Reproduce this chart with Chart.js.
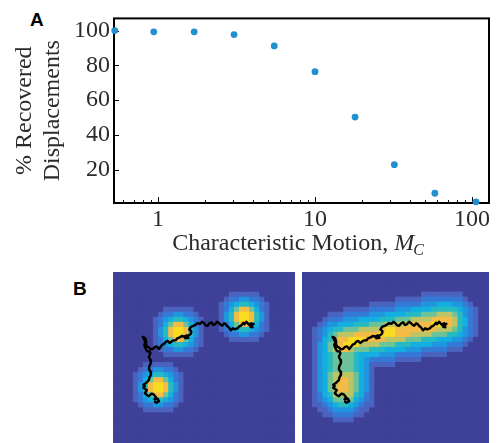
<!DOCTYPE html>
<html>
<head>
<meta charset="utf-8">
<script src="https://cdn.jsdelivr.net/npm/chart.js@4.4.1/dist/chart.umd.min.js"></script>
<style>
body { margin:0; background:#fff; width:499px; height:443px; overflow:hidden; position:relative; }
.panel { position:absolute; font-family:"Liberation Sans", Arial, sans-serif; font-weight:bold; font-size:19px; color:#000; }
#chartA { position:absolute; left:0; top:0; }
#imgL { position:absolute; left:113px; top:272px; }
#imgR { position:absolute; left:302px; top:272px; }
</style>
</head>
<body>
<div class="panel" style="left:30px;top:9px">A</div>
<div class="panel" style="left:73px;top:278px">B</div>
<canvas id="chartA" width="499" height="262"></canvas>
<canvas id="imgL" width="182" height="171"></canvas>
<canvas id="imgR" width="187" height="171"></canvas>

<script>
// panel A
var motion    = [0.53, 0.94, 1.7, 3.05, 5.5, 10, 18, 32, 58, 106];
var recovered = [100, 99.3, 99.3, 97.7, 91.2, 76.4, 50.3, 22.9, 6.5, 1.6];
var xTickLabels = [1, 10, 100];
var yTickLabels = [20, 40, 60, 80, 100];
var yTitle = ['% Recovered', 'Displacements'];
var xTitle = ['Characteristic Motion, ', 'M', 'C'];

// panel B : intensity level per cell (0-9), one string per image row
var heatLeft = [
"000000000000000000000000000000000000",
"000000000000000000000000000000000000",
"000000000000000000000000000000000000",
"000000000000000000000000000000000000",
"000000000000000000000001111110000000",
"000000000000000000000012233221000000",
"000000000000000000000123455432100000",
"000000000011111100000124688642100000",
"000000000122332210000135899853100000",
"000000001234554321000135899853100000",
"000000001246886421000124688642100000",
"000000001358998531000123455432100000",
"000000001358998531000012233221000000",
"000000001246886421000001111110000000",
"000000001234554321000000000000000000",
"000000000122332210000000000000000000",
"000000000011111100000000000000000000",
"000000000000000000000000000000000000",
"000000111111000000000000000000000000",
"000001223322100000000000000000000000",
"000012345543210000000000000000000000",
"000012468864210000000000000000000000",
"000013589985310000000000000000000000",
"000013589985310000000000000000000000",
"000012468864210000000000000000000000",
"000012345543210000000000000000000000",
"000001223322100000000000000000000000",
"000000111111000000000000000000000000",
"000000000000000000000000000000000000",
"000000000000000000000000000000000000",
"000000000000000000000000000000000000",
"000000000000000000000000000000000000",
"000000000000000000000000000000000000",
"000000000000000000000000000000000000"
];
var heatRight = [
"000000000000000000000000000000000000",
"000000000000000000000000000000000000",
"000000000000000000000000000000000000",
"000000000000000000000000000000000000",
"000000000000000000000001111111100000",
"000000000000000000111112222222210000",
"000000000000011111222223334443321000",
"000000001111122222333444455555432100",
"000001112222233344445556667776532100",
"000012223334444555666777788887542100",
"000123344455566677778888899887542100",
"001234556667777899888888887776532100",
"001235677788888999888777766655432100",
"001245788999888877776665554443321000",
"001346789997777666555444433322210000",
"001346788766655544443332222211100000",
"001345666654444333222221111100000000",
"001345666654322222111110000000000000",
"001345666654311111000000000000000000",
"001345666654310000000000000000000000",
"001346777764310000000000000000000000",
"001346788764310000000000000000000000",
"001346788764310000000000000000000000",
"001346788764310000000000000000000000",
"001245777754210000000000000000000000",
"001234666643210000000000000000000000",
"001123455432110000000000000000000000",
"000112333321100000000000000000000000",
"000011222211000000000000000000000000",
"000000111100000000000000000000000000",
"000000000000000000000000000000000000",
"000000000000000000000000000000000000",
"000000000000000000000000000000000000",
"000000000000000000000000000000000000"
];
// trajectory, in cell units (column, row)
var trackCol = [27.8,27.2,27.6,27.0,27.4,26.8,26.4,26.0,25.8,25.4,25.0,24.6,24.1,23.7,23.3,22.9,22.6,22.3,22.0,21.6,
  21.3,20.9,20.6,20.2,19.8,19.5,19.1,18.7,18.3,17.9,17.6,17.2,16.7,16.3,15.9,15.4,15.1,15.5,15.4,15.0,
  14.5,14.9,14.3,14.6,14.1,13.7,13.2,12.7,12.4,12.0,11.6,11.2,10.8,10.4,10.1,9.7,9.4,9.1,8.7,8.3,
  7.9,7.5,7.1,6.8,6.5,6.2,5.9,6.4,6.6,6.2,6.3,6.7,7.2,7.4,7.1,7.4,7.5,7.2,7.1,7.4,
  7.5,7.2,7.1,6.6,6.0,6.3,6.0,6.7,6.3,6.6,7.1,7.6,8.0,8.5,8.2,8.8,9.1,8.6,8.3];
var trackRow = [10.3,10.9,11.0,10.6,10.2,10.4,9.9,10.4,10.1,10.6,10.8,11.2,11.4,11.2,11.6,11.0,10.8,10.4,10.2,10.7,
  10.5,10.1,9.9,10.4,10.5,10.0,10.2,10.7,10.6,10.1,9.9,10.3,10.2,10.5,10.7,10.9,11.4,11.8,12.3,12.6,
  12.9,13.1,13.2,12.6,12.9,12.7,13.0,13.2,13.6,13.6,13.8,14.1,13.7,13.9,14.3,14.5,14.9,15.3,14.8,14.9,
  15.3,15.4,15.0,14.9,14.2,13.5,12.9,13.2,14.0,14.4,14.9,15.7,15.8,16.1,16.9,17.5,18.1,18.7,19.3,19.8,
  20.4,21.0,21.5,22.0,22.4,22.7,23.0,23.5,24.1,24.4,24.7,24.2,24.3,24.9,25.3,25.2,25.7,26.0,25.8];

var heatColors = ['#3e4197', '#4a63bf', '#3579d6', '#1f96dd', '#12afe0', '#27bac3',
                  '#6cc39a', '#bcc464', '#f4bb47', '#f8dc22'];
var textColor = '#2b2b2b';
var serif = '"Liberation Serif", "Times New Roman", serif';

// frame and inward tick marks, drawn from the chart's own scales
var frameTicks = {
  id: 'frameTicks',
  beforeDatasetsDraw: function (chart) {
    var ctx = chart.ctx, a = chart.chartArea, sx = chart.scales.x, sy = chart.scales.y;
    ctx.save();
    ctx.strokeStyle = '#000';
    ctx.lineWidth = 1;
    sx.ticks.forEach(function (t) {
      var m = t.value / Math.pow(10, Math.floor(Math.log10(t.value) + 1e-9));
      if (Math.abs(m - Math.round(m)) > 1e-6) return;
      var px = Math.round(sx.getPixelForValue(t.value)) + 0.5;
      var len = Math.round(m) === 1 ? 6 : 3;
      ctx.beginPath(); ctx.moveTo(px, a.bottom); ctx.lineTo(px, a.bottom - len); ctx.stroke();
    });
    sy.ticks.forEach(function (t) {
      if (yTickLabels.indexOf(t.value) < 0) return;
      var py = Math.round(sy.getPixelForValue(t.value)) + 0.5;
      ctx.beginPath(); ctx.moveTo(a.left, py); ctx.lineTo(a.left + 5, py); ctx.stroke();
    });
    ctx.lineWidth = 2;
    ctx.strokeRect(a.left, a.top, a.right - a.left, a.bottom - a.top);
    ctx.restore();
  }
};

// x title with italic symbol and subscript
var xTitlePlugin = {
  id: 'xTitlePlugin',
  afterDraw: function (chart) {
    var ctx = chart.ctx, a = chart.chartArea;
    ctx.save();
    ctx.fillStyle = textColor;
    ctx.textBaseline = 'alphabetic';
    ctx.textAlign = 'left';
    ctx.font = '24px ' + serif;
    var w1 = ctx.measureText(xTitle[0]).width;
    ctx.font = 'italic 24px ' + serif;
    var w2 = ctx.measureText(xTitle[1]).width;
    ctx.font = 'italic 16px ' + serif;
    var w3 = ctx.measureText(xTitle[2]).width;
    var x0 = (a.left + a.right) / 2 - (w1 + w2 + w3) / 2 - 3;
    var yb = a.bottom + 47;
    ctx.font = '24px ' + serif;
    ctx.fillText(xTitle[0], x0, yb);
    ctx.font = 'italic 24px ' + serif;
    ctx.fillText(xTitle[1], x0 + w1, yb);
    ctx.font = 'italic 16px ' + serif;
    ctx.fillText(xTitle[2], x0 + w1 + w2 - 1, yb + 5);
    ctx.restore();
  }
};

new Chart(document.getElementById('chartA'), {
  type: 'scatter',
  data: {
    datasets: [{
      data: motion.map(function (m, i) { return {x: m, y: recovered[i]}; }),
      backgroundColor: '#2190d0',
      borderColor: '#2190d0',
      borderWidth: 0,
      pointRadius: 3.4,
      clip: false
    }]
  },
  options: {
    responsive: false,
    devicePixelRatio: 1,
    animation: false,
    events: [],
    layout: { autoPadding: false, padding: { left: 0, right: 10, top: 16, bottom: 0 } },
    plugins: { legend: { display: false }, tooltip: { enabled: false } },
    scales: {
      x: {
        type: 'logarithmic', min: 0.5245, max: 128.3,
        grid: { display: false, drawTicks: false },
        border: { display: false },
        ticks: {
          autoSkip: false, maxRotation: 0, includeBounds: false, padding: 2,
          color: textColor, font: { family: serif, size: 24 },
          callback: function (v) { return xTickLabels.indexOf(v) >= 0 ? String(v) : ''; }
        },
        afterFit: function (s) { s.height = 59; }
      },
      y: {
        min: 0.9, max: 107,
        grid: { display: false, drawTicks: false },
        border: { display: false },
        ticks: {
          stepSize: 20, includeBounds: false, padding: 4,
          color: textColor, font: { family: serif, size: 24 },
          callback: function (v) { return yTickLabels.indexOf(v) >= 0 ? String(v) : ''; }
        },
        title: {
          display: true, text: yTitle, color: textColor,
          font: { family: serif, size: 24, lineHeight: 1.15 },
          padding: { top: 11, bottom: 0 }
        },
        afterFit: function (s) { s.width = 114; }
      }
    }
  },
  plugins: [frameTicks, xTitlePlugin]
});

// panel B
function gridPoints(rows) {
  var pts = [];
  rows.forEach(function (row, j) {
    for (var i = 0; i < row.length; i++) pts.push({x: i + 0.5, y: j + 0.5, v: +row[i]});
  });
  return pts;
}

function heatChart(id, rows) {
  var nCols = rows[0].length, nRows = rows.length;
  return new Chart(document.getElementById(id), {
    type: 'scatter',
    data: {
      datasets: [{
        data: trackCol.map(function (c, k) { return {x: c, y: trackRow[k]}; }),
        showLine: true,
        borderColor: '#000',
        borderWidth: 2.4,
        borderJoinStyle: 'round',
        borderCapStyle: 'round',
        pointRadius: 0,
        tension: 0
      }, {
        data: gridPoints(rows),
        pointStyle: 'rect',
        borderWidth: 0,
        pointRadius: function (c) {
          var a = c.chart.chartArea;
          var cw = a ? Math.max(a.width / nCols, a.height / nRows) : 5.2;
          return (cw + 0.8) / Math.SQRT2;
        },
        backgroundColor: function (c) { return heatColors[c.raw ? c.raw.v : 0]; }
      }]
    },
    options: {
      responsive: false,
      devicePixelRatio: 1,
      animation: false,
      events: [],
      layout: { autoPadding: false, padding: 0 },
      plugins: { legend: { display: false }, tooltip: { enabled: false } },
      scales: {
        x: { type: 'linear', display: false, min: 0, max: nCols },
        y: { type: 'linear', display: false, min: 0, max: nRows, reverse: true }
      }
    }
  });
}

heatChart('imgL', heatLeft);
heatChart('imgR', heatRight);
</script>
</body>
</html>
